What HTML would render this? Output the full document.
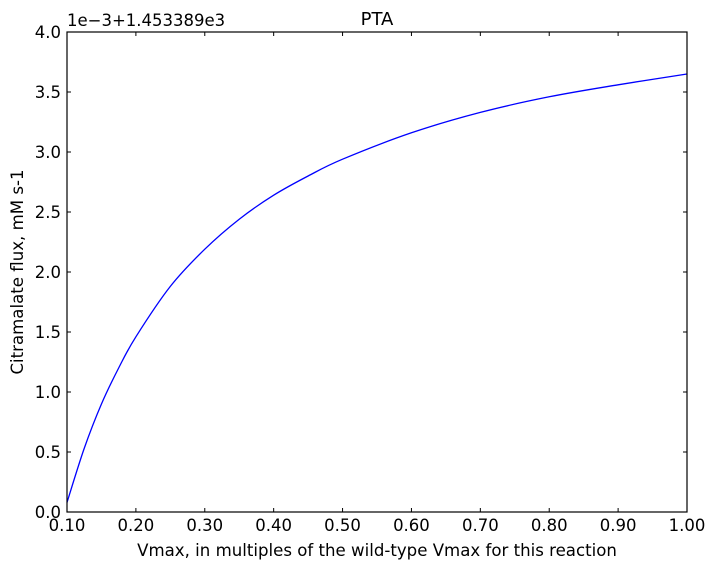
<!DOCTYPE html>
<html><head><meta charset="utf-8"><style>
body{margin:0;background:#fff;}
svg text{font-family:"DejaVu Sans","Liberation Sans",sans-serif;fill:#000;}
</style></head><body>
<svg id="chart" width="715" height="570" xmlns="http://www.w3.org/2000/svg">
<rect width="715" height="570" fill="#fff"/>
<g id="ticks"></g>
<path id="line" fill="none" stroke="#0000ff" stroke-width="1.3"/>
<rect x="67" y="32" width="620" height="480" fill="none" stroke="#000" stroke-width="1.2"/>
<text x="377" y="25" font-size="18" text-anchor="middle">PTA</text>
<text x="67" y="26" font-size="16.5">1e−3+1.453389e3</text>
<text x="377" y="556" font-size="16.6" text-anchor="middle">Vmax, in multiples of the wild-type Vmax for this reaction</text>
<text transform="translate(23,272) rotate(-90)" font-size="16.6" text-anchor="middle">Citramalate flux, mM s-1</text>
</svg>
<script>
const xValues=[0.1,0.125,0.15,0.175,0.2,0.25,0.3,0.35,0.4,0.45,0.5,0.6,0.7,0.8,0.9,1.0];
const fluxValues=[0.08,0.53,0.90,1.20,1.46,1.88,2.19,2.44,2.64,2.80,2.94,3.16,3.33,3.46,3.56,3.65];
const xTicks=[0.1,0.2,0.3,0.4,0.5,0.6,0.7,0.8,0.9,1.0];
const yTicks=[0,0.5,1,1.5,2,2.5,3,3.5,4];
const X0=67,X1=687,Y0=512,Y1=32;
function sx(v){return X0+(v-0.1)/0.9*(X1-X0);}
function sy(v){return Y0-v/4*(Y0-Y1);}
const NS="http://www.w3.org/2000/svg";
const g=document.getElementById('ticks');
xTicks.forEach(function(t){
  const x=sx(t);
  [[Y0,Y0-4],[Y1,Y1+4]].forEach(function(p){
    const l=document.createElementNS(NS,'line');
    l.setAttribute('x1',x);l.setAttribute('x2',x);l.setAttribute('y1',p[0]);l.setAttribute('y2',p[1]);
    l.setAttribute('stroke','#000');
    
    
    g.appendChild(l);
  });
  const tx=document.createElementNS(NS,'text');
  tx.setAttribute('x',x);tx.setAttribute('y',Y0+19);tx.setAttribute('font-size','16.5');tx.setAttribute('text-anchor','middle');
  tx.textContent=t.toFixed(2);
  
  
  g.appendChild(tx);
});
yTicks.forEach(function(t){
  const y=sy(t);
  [[X0,X0+4],[X1,X1-4]].forEach(function(p){
    const l=document.createElementNS(NS,'line');
    l.setAttribute('y1',y);l.setAttribute('y2',y);l.setAttribute('x1',p[0]);l.setAttribute('x2',p[1]);
    l.setAttribute('stroke','#000');
    
    
    g.appendChild(l);
  });
  const tx=document.createElementNS(NS,'text');
  tx.setAttribute('x',X0-6);tx.setAttribute('y',y+6);tx.setAttribute('font-size','16.5');tx.setAttribute('text-anchor','end');
  tx.textContent=t.toFixed(1);
  
  
  g.appendChild(tx);
});
const pts=xValues.map(function(v,i){return [sx(v),sy(fluxValues[i])];});
let d='M'+pts[0][0]+','+pts[0][1];
for(let i=0;i<pts.length-1;i++){
  const p0=pts[Math.max(0,i-1)],p1=pts[i],p2=pts[i+1],p3=pts[Math.min(pts.length-1,i+2)];
  const c1=[p1[0]+(p2[0]-p0[0])/6,p1[1]+(p2[1]-p0[1])/6];
  const c2=[p2[0]-(p3[0]-p1[0])/6,p2[1]-(p3[1]-p1[1])/6];
  d+=' C'+c1[0]+','+c1[1]+' '+c2[0]+','+c2[1]+' '+p2[0]+','+p2[1];
}
document.getElementById('line').setAttribute('d',d);
</script>
</body></html>
